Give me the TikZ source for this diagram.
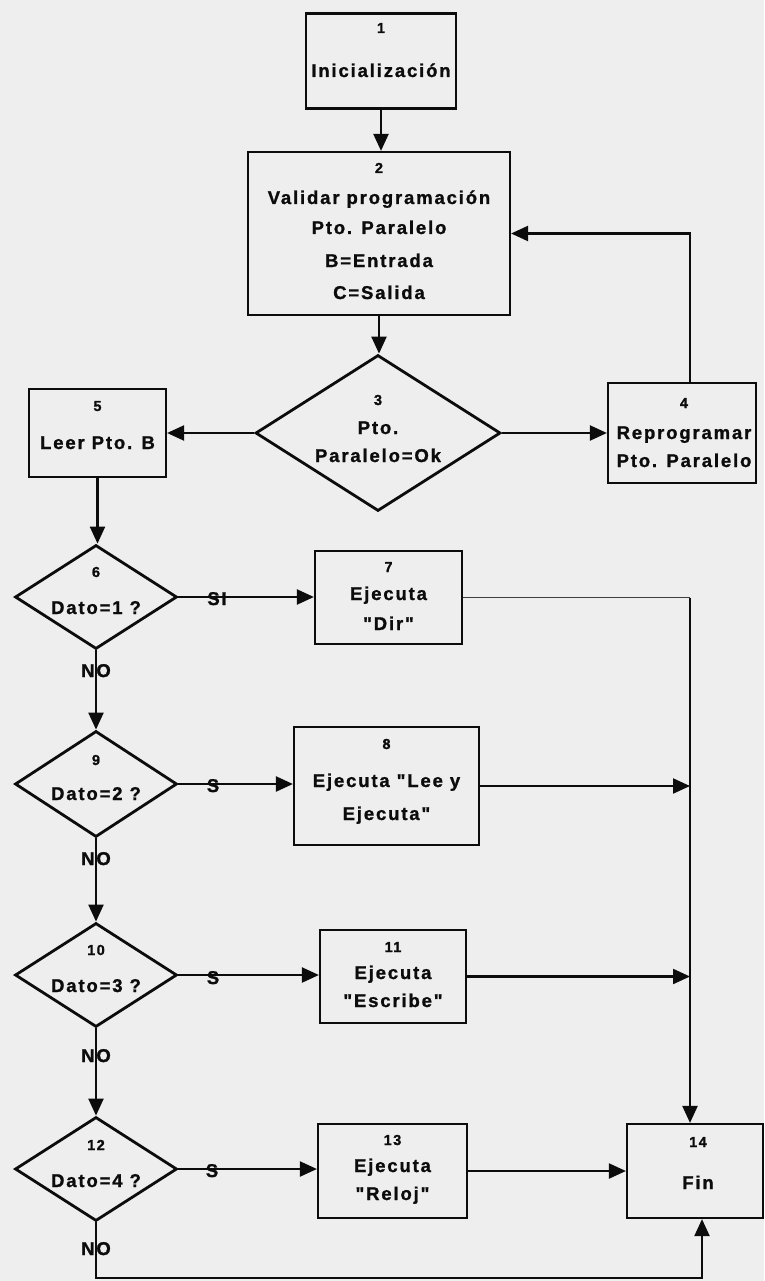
\documentclass[tikz,border=0pt]{standalone}
\usepackage{fontspec}
\setmainfont{Liberation Sans}
\newfontfamily\flowfont[LetterSpace=10,FakeBold=1.2]{Liberation Sans}
\usetikzlibrary{arrows.meta,shapes.geometric}

\definecolor{paper}{RGB}{238,238,238}
\definecolor{ink}{RGB}{12,12,12}

\tikzset{
  box/.style={draw=ink, line width=2.2pt, rectangle, inner sep=0pt},
  dia/.style={draw=ink, line width=2.8pt, diamond, inner sep=0pt, line join=miter},
  conn/.style={draw=ink, line width=2.2pt, -{Triangle[length=17pt,width=15pt]}},
  thinline/.style={draw=ink!80, line width=1.6pt},
  tx/.style={font=\flowfont\bfseries\fontsize{18.5}{20}\selectfont, anchor=base, inner sep=0pt, text=ink},
  nm/.style={font=\flowfont\bfseries\fontsize{14.5}{16}\selectfont, anchor=base, inner sep=0pt, text=ink},
}

\begin{document}
\begin{tikzpicture}[x=1pt, y=-1pt]
  \useasboundingbox (0,0) rectangle (764,1281);
  \fill[paper] (0,0) rectangle (764,1281);

  % shapes
  \node[box, minimum width=150pt, minimum height=95pt]  (b1)  at (381,61)     {};
  \node[box, minimum width=262pt, minimum height=163pt] (b2)  at (379,233.5)  {};
  \node[dia, minimum width=245pt, minimum height=156pt] (d3)  at (378,433)    {};
  \node[box, minimum width=148pt, minimum height=100pt] (b4)  at (682,433)    {};
  \node[box, minimum width=137pt, minimum height=88pt]  (b5)  at (97.5,433)   {};
  \node[dia, minimum width=162pt, minimum height=104pt] (d6)  at (96,597)     {};
  \node[box, minimum width=147pt, minimum height=93pt]  (b7)  at (388.5,597.5){};
  \node[dia, minimum width=162pt, minimum height=106pt] (d9)  at (96,784)     {};
  \node[box, minimum width=185pt, minimum height=118pt] (b8)  at (386.5,786)  {};
  \node[dia, minimum width=162pt, minimum height=104pt] (d10) at (96,975)     {};
  \node[box, minimum width=146pt, minimum height=93pt]  (b11) at (393,976.5)  {};
  \node[dia, minimum width=162pt, minimum height=104pt] (d12) at (96,1169)    {};
  \node[box, minimum width=149pt, minimum height=94pt]  (b13) at (392.5,1171) {};
  \node[box, minimum width=136pt, minimum height=94pt]  (b14) at (695,1171)   {};

  % texts
  \node[nm] (t1n)  at (381,33)    {1};
  \node[tx] (t1a)  at (381,77)    {Inicialización};

  \node[nm] (t2n)  at (379,173)   {2};
  \node[tx] (t2a)  at (379,204)   {Validar programación};
  \node[tx] (t2b)  at (379,234)   {Pto. Paralelo};
  \node[tx] (t2c)  at (379,267)   {B=Entrada};
  \node[tx] (t2d)  at (379,299)   {C=Salida};

  \node[nm] (t3n)  at (378,405)   {3};
  \node[tx] (t3a)  at (378,434)   {Pto.};
  \node[tx] (t3b)  at (378,462)   {Paralelo=Ok};

  \node[nm] (t4n)  at (684,408)   {4};
  \node[tx] (t4a)  at (684,439)   {Reprogramar};
  \node[tx] (t4b)  at (684,467)   {Pto. Paralelo};

  \node[nm] (t5n)  at (97.5,411)  {5};
  \node[tx] (t5a)  at (97.5,449)  {Leer Pto. B};

  \node[nm] (t6n)  at (96,577)    {6};
  \node[tx] (t6a)  at (96,614)    {Dato=1 ?};

  \node[nm] (t7n)  at (388.5,572) {7};
  \node[tx] (t7a)  at (388.5,600) {Ejecuta};
  \node[tx] (t7b)  at (388.5,630) {"Dir"};

  \node[nm] (t9n)  at (96,765)    {9};
  \node[tx] (t9a)  at (96,800)    {Dato=2 ?};

  \node[nm] (t8n)  at (386.5,749) {8};
  \node[tx] (t8a)  at (386.5,787) {Ejecuta "Lee y};
  \node[tx] (t8b)  at (386.5,820) {Ejecuta"};

  \node[nm] (t10n) at (96,955)    {10};
  \node[tx] (t10a) at (96,992)    {Dato=3 ?};

  \node[nm] (t11n) at (393,952)   {11};
  \node[tx] (t11a) at (393,979)   {Ejecuta};
  \node[tx] (t11b) at (393,1007)  {"Escribe"};

  \node[nm] (t12n) at (96,1150)   {12};
  \node[tx] (t12a) at (96,1187)   {Dato=4 ?};

  \node[nm] (t13n) at (392.5,1145){13};
  \node[tx] (t13a) at (392.5,1172){Ejecuta};
  \node[tx] (t13b) at (392.5,1200){"Reloj"};

  \node[nm] (t14n) at (698,1147)  {14};
  \node[tx] (t14a) at (698,1189)  {Fin};

  % connectors
  \draw[conn] (b1.south) -- (b1.south |- b2.north);
  \draw[conn] (b2.south) -- (b2.south |- d3.north);
  \draw[conn] (d3.east) -- (b4.west);
  \draw[conn] (d3.west) -- (b5.east);
  \coordinate (fbk) at ([xshift=8pt]b4.north);
  \draw[conn] (fbk) |- (b2.east);
  \draw[conn] (b5.south) -- (b5.south |- d6.north);

  \draw[conn] (d6.east) -- (d6.east -| b7.west);
  \draw[conn] (d6.south) -- (d9.north);
  \draw[conn] (d9.east) -- (d9.east -| b8.west);
  \draw[conn] (d9.south) -- (d10.north);
  \draw[conn] (d10.east) -- (d10.east -| b11.west);
  \draw[conn] (d10.south) -- (d12.north);
  \draw[conn] (d12.east) -- (d12.east -| b13.west);

  % collecting trunk into Fin
  \coordinate (trk) at ([xshift=-5pt]b14.north);
  \draw[thinline] (b7.east) -- (b7.east -| trk);
  \draw[conn] (b7.east -| trk) -- (trk);
  \draw[conn] (b8.east) -- (b8.east -| trk);
  \draw[conn] (b11.east) -- (b11.east -| trk);
  \draw[conn] (b13.east) -- (b14.west);

  % last NO branch runs under the chart back up into Fin
  \coordinate (low) at (96,1278);
  \coordinate (fup) at ([xshift=7pt]b14.south);
  \draw[conn] (d12.south) |- (fup |- low) -- (fup);

  % branch labels
  \node[tx] (si6)  at (217,605)  {SI};
  \node[tx] (s9)   at (213,792)  {S};
  \node[tx] (s10)  at (213,984)  {S};
  \node[tx] (s12)  at (212,1177) {S};
  \node[tx] (no6)  at (96,677)   {NO};
  \node[tx] (no9)  at (96,865)   {NO};
  \node[tx] (no10) at (96,1062)  {NO};
  \node[tx] (no12) at (96,1255)  {NO};
\end{tikzpicture}
\end{document}
